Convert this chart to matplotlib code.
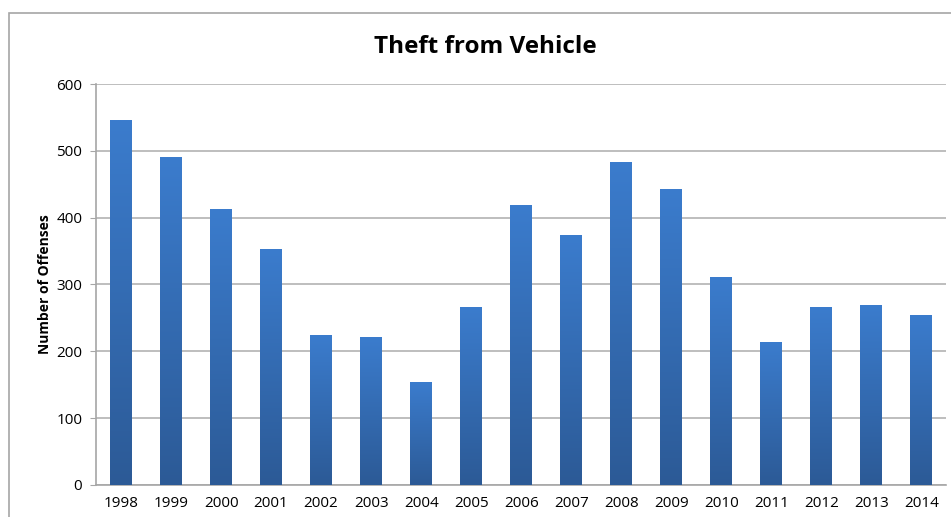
import numpy as np
import matplotlib.pyplot as plt
from matplotlib.patches import Rectangle
from matplotlib.colors import LinearSegmentedColormap

plt.rcParams['font.family'] = ['Open Sans', 'DejaVu Sans']

years = ['1998', '1999', '2000', '2001', '2002', '2003', '2004', '2005', '2006',
         '2007', '2008', '2009', '2010', '2011', '2012', '2013', '2014']
offenses = [546, 490, 412, 352, 224, 221, 153, 265, 418,
            373, 483, 442, 311, 214, 265, 269, 253]

fig = plt.figure(figsize=(9.51, 5.17), dpi=100)
ax = fig.add_axes([0.101, 0.062, 0.894, 0.7755])

# outer chart border (runs off the right/bottom of the image)
fig.patches.append(Rectangle((9 / 951, -0.05), 1.1, 1 - 13 / 517 + 0.05,
                             transform=fig.transFigure, fill=False,
                             edgecolor='#a6a6a6', linewidth=1.2, clip_on=False))

x = np.arange(len(years))
bars = ax.bar(x, offenses, width=0.43, color='none', zorder=3)

# vertical gradient fill, lighter at top
cmap = LinearSegmentedColormap.from_list('bar', ['#2c5a96', '#3b7ccd'])
grad = np.linspace(0, 1, 256).reshape(-1, 1)
for b in bars:
    bx, bw, bh = b.get_x(), b.get_width(), b.get_height()
    ax.imshow(grad, cmap=cmap, origin='lower', aspect='auto',
              extent=[bx, bx + bw, 0, bh], zorder=3)

ax.set_xlim(-0.5, len(years) - 0.5)
ax.set_ylim(0, 600)
ax.set_yticks(range(0, 601, 100))
ax.set_xticks(x)
ax.set_xticklabels(years)

ax.grid(axis='y', color='#b3b3b3', linewidth=1.2, zorder=0)
ax.set_axisbelow(True)
for s in ['top', 'right']:
    ax.spines[s].set_visible(False)
for s in ['left', 'bottom']:
    ax.spines[s].set_color('#a6a6a6')
    ax.spines[s].set_linewidth(1.2)
ax.tick_params(axis='y', length=4, color='#a6a6a6', labelsize=11, pad=6)
ax.tick_params(axis='x', length=0, labelsize=11, pad=8)

ax.set_ylabel('Number of Offenses', fontsize=10, fontweight='bold', labelpad=3)
fig.text(0.51, 0.91, 'Theft from Vehicle', ha='center', va='center',
         fontsize=17.5, fontweight='bold')

fig.savefig('out.png', dpi=100)
